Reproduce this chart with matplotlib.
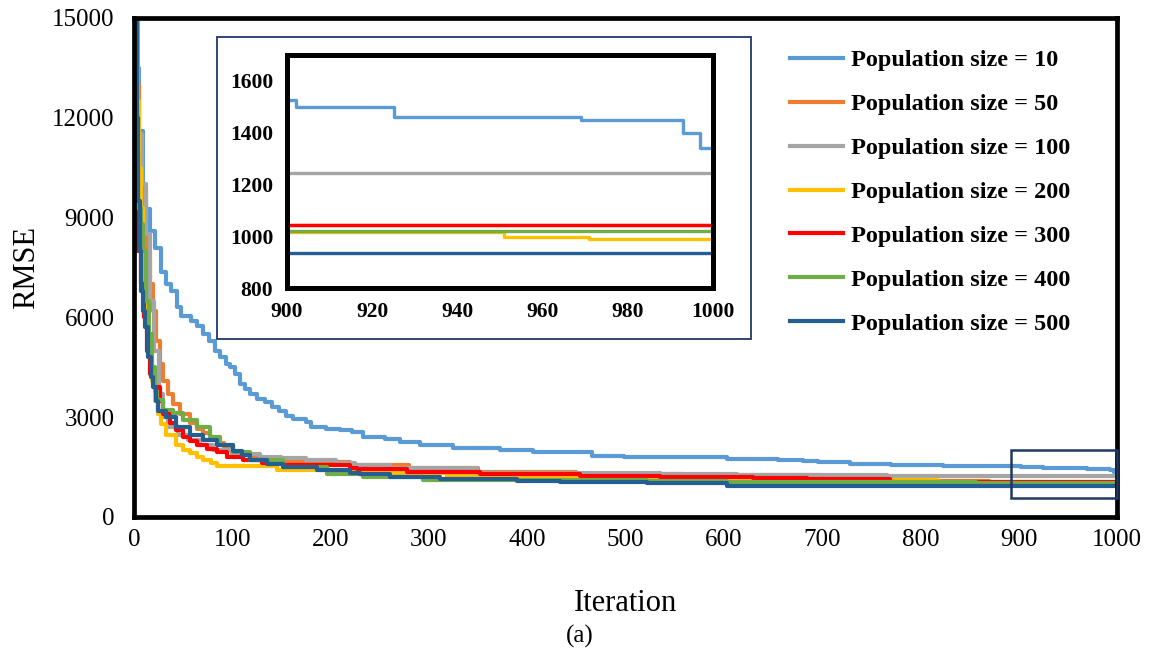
import matplotlib.pyplot as plt
from matplotlib.patches import Rectangle

plt.rcParams['font.family'] = ['Liberation Serif', 'DejaVu Serif']

# best RMSE per iteration, stored as (iteration, value) change points
labels = ['Population size = 10', 'Population size = 50', 'Population size = 100',
          'Population size = 200', 'Population size = 300', 'Population size = 400',
          'Population size = 500']
colors = ['#5B9BD5', '#ED7D31', '#A5A5A5', '#FFC000', '#FF0000', '#70AD47', '#255E91']

pop10 = [(0, 15000), (2, 13500), (5, 11600), (9, 9900), (12, 9250), (16, 8600), (21, 8100),
         (27, 7350), (33, 7000), (38, 6800), (44, 6300), (48, 6050), (58, 5900), (64, 5750),
         (70, 5500), (76, 5300), (82, 5000), (87, 4800), (94, 4600), (98, 4500), (103, 4300),
         (108, 4000), (113, 3850), (118, 3700), (125, 3550), (133, 3450), (140, 3300),
         (148, 3200), (155, 3050), (162, 2950), (175, 2850), (180, 2700), (195, 2650),
         (210, 2600), (222, 2550), (233, 2400), (255, 2350), (271, 2250), (291, 2150),
         (325, 2080), (372, 2020), (406, 1960), (466, 1820), (498, 1790), (603, 1745),
         (655, 1720), (681, 1690), (696, 1640), (728, 1580), (770, 1555), (823, 1535),
         (868, 1525), (902, 1500), (925, 1460), (969, 1450), (993, 1400), (997, 1340)]
pop50 = [(0, 15000), (3, 13000), (5, 11500), (7, 10000), (9, 9700), (11, 8500), (12, 7800),
         (16, 7000), (19, 6200), (22, 5300), (26, 4600), (30, 4100), (35, 3700), (40, 3400),
         (47, 3100), (57, 2820), (64, 2650), (70, 2520), (77, 2400), (84, 2230), (92, 2100),
         (101, 1950), (110, 1850), (118, 1780), (152, 1650), (220, 1570), (280, 1460),
         (350, 1360), (450, 1300), (560, 1250), (700, 1150), (800, 1080), (870, 1045)]
pop100 = [(0, 15000), (4, 11500), (8, 10000), (12, 8500), (16, 6500), (20, 5000), (25, 3700),
          (30, 3000), (35, 2700), (45, 2450), (55, 2300), (67, 2150), (80, 2000), (100, 1900),
          (128, 1800), (150, 1770), (175, 1700), (206, 1620), (225, 1570), (260, 1470),
          (349, 1320), (535, 1300), (613, 1270), (766, 1245)]
pop200 = [(0, 15000), (3, 12500), (5, 10500), (7, 9300), (9, 7700), (11, 6500), (13, 5500),
          (15, 4800), (18, 4100), (21, 3500), (24, 3100), (27, 2800), (33, 2450), (43, 2150),
          (50, 2000), (57, 1930), (64, 1800), (70, 1720), (78, 1620), (84, 1520), (145, 1420),
          (200, 1370), (262, 1330), (318, 1240), (400, 1200), (500, 1170), (600, 1140),
          (700, 1120), (818, 1017), (951, 998), (971, 990)]
pop300 = [(0, 9200), (2, 8700), (4, 8000), (7, 7000), (10, 6000), (13, 5000), (16, 4300),
          (20, 3900), (26, 3500), (30, 3100), (37, 2820), (43, 2600), (50, 2400), (57, 2280),
          (64, 2160), (74, 2050), (84, 1950), (95, 1800), (111, 1710), (130, 1630), (152, 1560),
          (220, 1470), (227, 1440), (278, 1350), (352, 1290), (454, 1230), (535, 1210),
          (630, 1170), (685, 1140), (769, 1043)]
pop400 = [(0, 15000), (2, 11000), (4, 9300), (7, 8800), (9, 8000), (12, 6500), (15, 5500),
          (18, 4500), (21, 3800), (23, 3520), (30, 3220), (40, 3120), (50, 2920), (64, 2700),
          (77, 2400), (88, 2160), (101, 1950), (118, 1710), (152, 1500), (196, 1290),
          (233, 1200), (294, 1110), (522, 1090), (603, 1045), (857, 1021)]
pop500 = [(0, 15000), (3, 12000), (4, 9500), (6, 8000), (7, 6800), (9, 6200), (11, 5700),
          (14, 4800), (17, 4200), (19, 3900), (22, 3500), (24, 3200), (33, 3000), (43, 2700),
          (57, 2470), (70, 2310), (84, 2160), (101, 1980), (110, 1850), (118, 1710),
          (135, 1600), (152, 1500), (186, 1410), (220, 1330), (230, 1290), (260, 1210),
          (311, 1130), (390, 1090), (433, 1040), (522, 1010), (603, 934)]
series = [pop10, pop50, pop100, pop200, pop300, pop400, pop500]
last_iter = 1000


def step_xy(points):
    xs = [p[0] for p in points] + [last_iter]
    ys = [p[1] for p in points] + [points[-1][1]]
    return xs, ys


fig = plt.figure(figsize=(11.62, 6.54), dpi=100)
ax = fig.add_axes([0.1153, 0.2095, 0.846, 0.763])

for pts, c, lab in zip(series, colors, labels):
    xs, ys = step_xy(pts)
    ax.plot(xs, ys, drawstyle='steps-post', color=c, lw=3.0, label=lab)

ax.set_xlim(0, 1000)
ax.set_ylim(0, 15000)
ax.set_xticks(range(0, 1001, 100))
ax.set_yticks(range(0, 15001, 3000))
ax.tick_params(length=0, labelsize=18)
ax.tick_params(axis='y', pad=14)
ax.tick_params(axis='x', pad=9)
for s in ax.spines.values():
    s.set_linewidth(3.4)
ax.set_ylabel('RMSE', fontsize=22, labelpad=8)
ax.set_xlabel('Iteration', fontsize=22, labelpad=27)
fig.text(0.499, 0.027, '(a)', fontsize=18, ha='center', va='center')

# zoom window around the last iterations
ax.add_patch(Rectangle((892, 560), 108, 1450, fill=False, ec='#1F3864', lw=1.8,
                       clip_on=False, zorder=5))

leg = ax.legend(loc='upper left', bbox_to_anchor=(0.667, 0.937), frameon=False,
                prop={'weight': 'bold', 'size': 17.5}, handlelength=2.2,
                handletextpad=0.33, labelspacing=0.9, borderaxespad=0, borderpad=0)
for h in leg.legend_handles:
    h.set_linewidth(3)

# inset frame and axes
fig.patches.append(Rectangle((0.1867, 0.4817), 0.4596, 0.4617, transform=fig.transFigure,
                             fc='white', ec='#1F3864', lw=1.3, zorder=1))
ins = fig.add_axes([0.247, 0.5596, 0.3666, 0.3563], zorder=2)
for pts, c in zip(series, colors):
    xs, ys = step_xy(pts)
    ins.plot(xs, ys, drawstyle='steps-post', color=c, lw=2.4)
ins.set_xlim(900, 1000)
ins.set_ylim(800, 1700)
ins.set_xticks(range(900, 1001, 20))
ins.set_yticks(range(800, 1601, 200))
ins.tick_params(length=0, labelsize=15.5, pad=10)
for t in ins.get_xticklabels() + ins.get_yticklabels():
    t.set_fontweight('bold')
for s in ins.spines.values():
    s.set_linewidth(3.6)

fig.savefig('out.png', dpi=100)
